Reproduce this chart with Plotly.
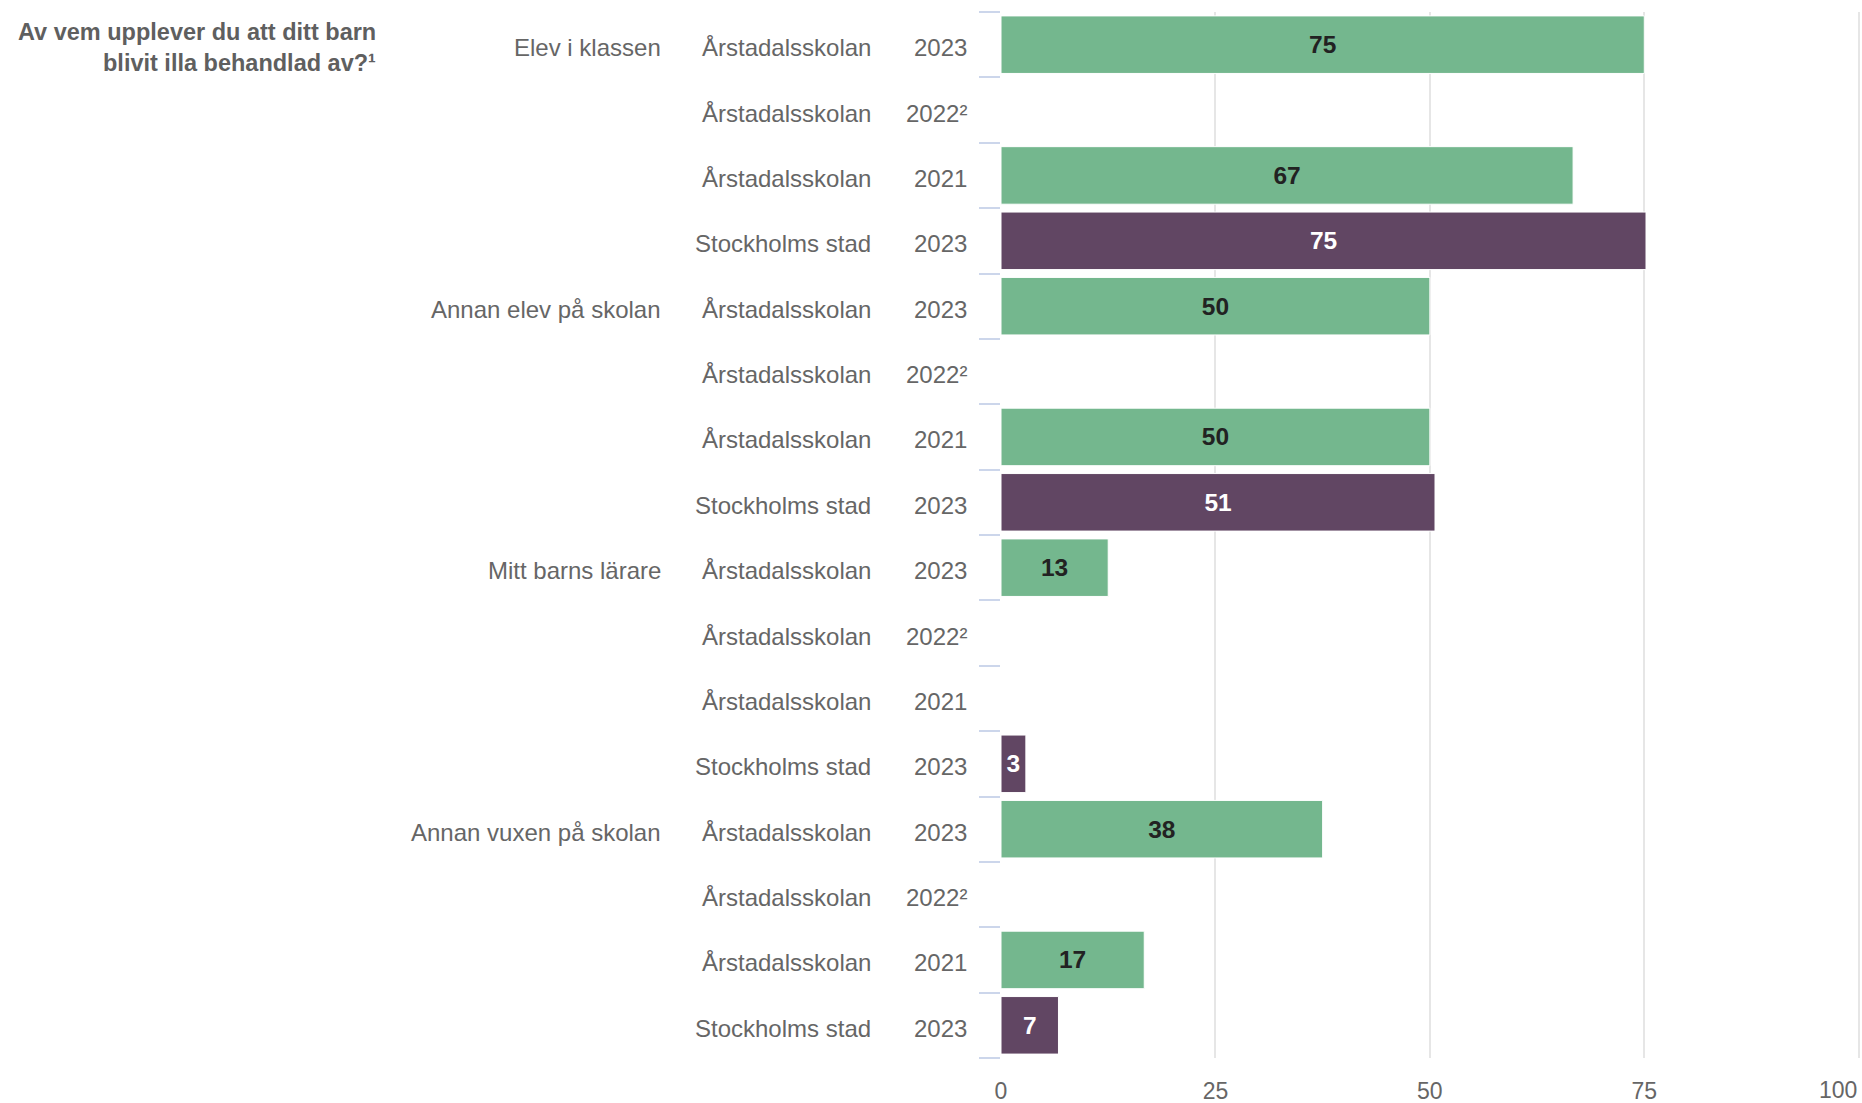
import plotly.graph_objects as go

# ---- data ----
groups = ["Elev i klassen", "Annan elev på skolan", "Mitt barns lärare", "Annan vuxen på skolan"]
units = ["Årstadalsskolan", "Årstadalsskolan", "Årstadalsskolan", "Stockholms stad"]
years = ["2023", "2022²", "2021", "2023"]
elev_i_klassen = [75, None, 66.7, 75.2]
annan_elev = [50, None, 50, 50.6]
mitt_barns_larare = [12.5, None, None, 2.9]
annan_vuxen = [37.5, None, 16.7, 6.7]
x_ticks = [0, 25, 50, 75, 100]
x_ticktext = ["0", "25", "50", "75", ""]
x_last_label = "100"
title_lines = ["Av vem upplever du att ditt barn", "blivit illa behandlad av?¹"]

GREEN = "#74b78e"
PURPLE = "#614663"
FONT = "Liberation Sans, Arial, sans-serif"
LABEL = "#666666"

series = [elev_i_klassen, annan_elev, mitt_barns_larare, annan_vuxen]

xs, ys, colors, tcolors = [], [], [], []
row_group, row_unit, row_year = [], [], []
idx = 0
for g, vals in zip(groups, series):
    for j, v in enumerate(vals):
        xs.append(v)
        ys.append(idx)
        stad = units[j] == "Stockholms stad"
        colors.append(PURPLE if stad else GREEN)
        tcolors.append("#ffffff" if stad else "#222222")
        row_group.append(g if j == 0 else "")
        row_unit.append(units[j])
        row_year.append(years[j])
        idx += 1
n = idx

fig = go.Figure()
fig.add_trace(go.Bar(
    x=xs, y=ys, orientation="h", width=0.88,
    marker=dict(color=colors, line=dict(color="#ffffff", width=1)),
    texttemplate="%{x:.0f}", textposition="inside", insidetextanchor="middle",
    textangle=0, constraintext="none",
    textfont=dict(family=FONT, size=24.5, color=tcolors, weight="bold"),
    hoverinfo="skip", showlegend=False,
))

ann = []
for i in range(n):
    for txt, shift in ((row_year[i], -32), (row_unit[i], -128), (row_group[i], -338)):
        if txt:
            ann.append(dict(x=0, y=ys[i], xref="x", yref="y", text=txt, showarrow=False,
                            xanchor="right", yanchor="middle", xshift=shift, yshift=-3,
                            font=dict(family=FONT, size=24, color=LABEL)))
for k, line in enumerate(title_lines):
    ann.append(dict(x=0, y=1, xref="x", yref="paper", text="<b>" + line + "</b>", showarrow=False,
                    xanchor="right", yanchor="middle", xshift=-623, yshift=-20 - 31 * k,
                    font=dict(family=FONT, size=23.5, color="#5f5f5f")))
# last x tick label, right-aligned to the plot edge like the original
ann.append(dict(x=x_ticks[-1], y=0, xref="x", yref="paper", text=x_last_label, showarrow=False,
                xanchor="right", yanchor="middle", yshift=-32,
                font=dict(family=FONT, size=23, color=LABEL)))

fig.update_layout(
    width=1862, height=1103,
    margin=dict(l=1001, r=2, t=12, b=45, autoexpand=False),
    paper_bgcolor="white", plot_bgcolor="white",
    font=dict(family=FONT, color=LABEL),
    annotations=ann,
    bargap=0.12,
)
fig.update_xaxes(range=[0, 100.15], tickvals=x_ticks, ticktext=x_ticktext, showgrid=True,
                 gridcolor="#e6e6e6", gridwidth=1.5, zeroline=False, showline=False, ticks="",
                 tickfont=dict(family=FONT, size=23, color=LABEL),
                 ticklabelstandoff=17, automargin=False, fixedrange=True)
fig.update_yaxes(range=[n - 0.5, -0.5], tickvals=[i - 0.5 for i in range(n + 1)], showticklabels=False,
                 ticks="outside", ticklen=21, tickcolor="#ccd6eb", tickwidth=2, automargin=False,
                 showgrid=False, zeroline=False, showline=False, fixedrange=True)

fig.write_html("out.html", config={"displayModeBar": False},
               post_script="document.body.style.margin='0';document.body.style.overflow='hidden';")
